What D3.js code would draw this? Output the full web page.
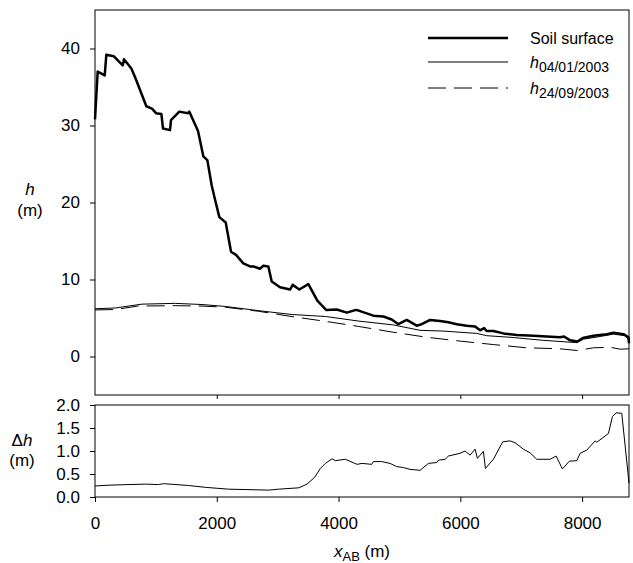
<!DOCTYPE html>
<meta charset="utf-8">
<script src="https://d3js.org/d3.v7.min.js"></script>
<style>
  body { margin: 0; background: #fff; }
  text { font-family: "Liberation Sans", Arial, sans-serif; fill: #000; }
</style>
<div id="chart"></div>
<script>
    // [x_AB (m), value]
    var soilSurface = [
        [0, 30.8], [44, 37.0], [160, 36.5], [186, 39.2], [307, 39.0], [455, 37.8], [476, 38.6],
        [597, 37.4], [662, 36.2], [843, 32.5], [936, 32.2], [1002, 31.6], [1090, 31.5], [1117, 29.6],
        [1232, 29.4], [1248, 30.7], [1385, 31.8], [1527, 31.6], [1550, 31.8], [1692, 29.3],
        [1779, 26.0], [1845, 25.5], [1917, 22.2], [1971, 20.4], [2042, 18.1], [2147, 17.4],
        [2234, 13.6], [2316, 13.2], [2436, 12.1], [2546, 11.7], [2601, 11.7], [2710, 11.4],
        [2765, 11.8], [2847, 11.7], [2902, 9.75], [3039, 9.0], [3203, 8.7], [3247, 9.3],
        [3356, 8.7], [3504, 9.4], [3652, 7.25], [3795, 6.05], [3970, 6.1], [4135, 5.7],
        [4287, 6.05], [4353, 5.9], [4572, 5.3], [4736, 5.2], [4873, 4.8], [4982, 4.2],
        [5120, 4.75], [5284, 4.0], [5366, 4.2], [5503, 4.75], [5667, 4.6], [5804, 4.45],
        [5942, 4.2], [6106, 4.0], [6242, 3.9], [6325, 3.4], [6390, 3.7], [6434, 3.3],
        [6543, 3.3], [6707, 3.0], [6926, 2.8], [7200, 2.7], [7419, 2.6], [7638, 2.5],
        [7704, 2.6], [7803, 2.1], [7923, 1.95], [8010, 2.4], [8185, 2.7], [8405, 2.9],
        [8515, 3.1], [8679, 2.9], [8761, 2.5], [8770, 1.7]
    ];

    var h04012003 = [
        [0, 6.2], [334, 6.3], [772, 6.8], [1319, 6.9], [1758, 6.75], [2141, 6.5], [2689, 5.95],
        [3236, 5.45], [3783, 5.2], [4331, 4.6], [4900, 4.1], [5339, 3.4], [5722, 3.3],
        [6270, 3.0], [6434, 2.7], [6817, 2.5], [7365, 2.1], [7913, 1.8], [8022, 2.25],
        [8296, 2.6], [8515, 2.9], [8707, 2.7], [8770, 2.1]
    ];

    var h24092003 = [
        [0, 6.05], [334, 6.1], [700, 6.55], [1319, 6.6], [1758, 6.55], [2141, 6.4], [2689, 5.87],
        [3236, 5.18], [3783, 4.57], [4331, 3.9], [4900, 3.15], [5448, 2.5], [5996, 2.0],
        [6543, 1.55], [7091, 1.13], [7638, 1.0], [7913, 0.78], [8185, 1.13], [8460, 1.2],
        [8625, 0.95], [8770, 1.0]
    ];

    var deltaH = [
        [0, 0.24], [280, 0.26], [826, 0.28], [1045, 0.27], [1127, 0.29], [1538, 0.25], [1812, 0.21],
        [2196, 0.17], [2853, 0.15], [3017, 0.17], [3346, 0.20], [3482, 0.28], [3608, 0.43],
        [3701, 0.62], [3783, 0.73], [3893, 0.83], [3947, 0.79], [4112, 0.82], [4304, 0.71],
        [4386, 0.73], [4545, 0.71], [4572, 0.77], [4709, 0.77], [4846, 0.73], [4956, 0.66],
        [5065, 0.64], [5175, 0.60], [5339, 0.58], [5476, 0.73], [5613, 0.75], [5640, 0.80],
        [5750, 0.82], [5804, 0.89], [5996, 0.95], [6078, 1.0], [6160, 0.91], [6242, 1.04],
        [6280, 0.84], [6379, 0.99], [6412, 0.62], [6543, 0.82], [6696, 1.20], [6817, 1.22],
        [6899, 1.18], [7036, 1.04], [7146, 0.96], [7255, 0.82], [7474, 0.82], [7573, 0.89],
        [7677, 0.61], [7792, 0.78], [7912, 0.79], [7967, 0.95], [8077, 1.02], [8214, 1.22],
        [8241, 1.19], [8432, 1.38], [8498, 1.75], [8558, 1.83], [8651, 1.82], [8770, 0.3]
    ];

    var xTicks = [0, 2000, 4000, 6000, 8000];
    var hTicks = [0, 10, 20, 30, 40];
    var dTicks = [0, 0.5, 1.0, 1.5, 2.0];

    var width = 633, height = 563;
    var left = 95, right = 629;
    var top1 = 10, bottom1 = 395;   // upper panel
    var top2 = 405, bottom2 = 497;  // lower panel

    var svg = d3.select("#chart").append("svg")
        .attr("width", width)
        .attr("height", height);

    var x = d3.scaleLinear().domain([0, 8770]).range([left, right]);
    var y1 = d3.scaleLinear().domain([-5, 45]).range([bottom1, top1]);
    var y2 = d3.scaleLinear().domain([0, 2]).range([bottom2, top2]);

    // ---- upper panel ----
    svg.append("rect")
        .attr("x", left).attr("y", top1)
        .attr("width", right - left).attr("height", bottom1 - top1)
        .attr("fill", "none").attr("stroke", "#000").attr("stroke-width", 1);

    var yAxis1 = svg.append("g")
        .attr("transform", "translate(" + left + ",0)")
        .call(d3.axisLeft(y1).tickValues(hTicks).tickSize(5).tickPadding(10));
    yAxis1.select(".domain").remove();

    var xAxis1 = svg.append("g")
        .attr("transform", "translate(0," + bottom1 + ")")
        .call(d3.axisBottom(x).tickValues(xTicks.slice(1)).tickSize(4).tickFormat(""));
    xAxis1.select(".domain").remove();

    var line1 = d3.line()
        .x(function(d) { return x(d[0]); })
        .y(function(d) { return y1(d[1]); });

    svg.append("path").datum(h24092003)
        .attr("d", line1).attr("fill", "none")
        .attr("stroke", "#000").attr("stroke-width", 1)
        .attr("stroke-dasharray", "18,8");

    svg.append("path").datum(h04012003)
        .attr("d", line1).attr("fill", "none")
        .attr("stroke", "#000").attr("stroke-width", 1);

    svg.append("path").datum(soilSurface)
        .attr("d", line1).attr("fill", "none")
        .attr("stroke", "#000").attr("stroke-width", 2.5)
        .attr("stroke-linejoin", "round");

    // ---- lower panel ----
    svg.append("rect")
        .attr("x", left).attr("y", top2)
        .attr("width", right - left).attr("height", bottom2 - top2)
        .attr("fill", "none").attr("stroke", "#000").attr("stroke-width", 1);

    var yAxis2 = svg.append("g")
        .attr("transform", "translate(" + left + ",0)")
        .call(d3.axisLeft(y2).tickValues(dTicks).tickSize(5).tickPadding(10).tickFormat(d3.format(".1f")));
    yAxis2.select(".domain").remove();

    var xAxis2 = svg.append("g")
        .attr("transform", "translate(0," + bottom2 + ")")
        .call(d3.axisBottom(x).tickValues(xTicks).tickSize(5).tickPadding(15).tickFormat(d3.format("d")));
    xAxis2.select(".domain").remove();

    var line2 = d3.line()
        .x(function(d) { return x(d[0]); })
        .y(function(d) { return y2(d[1]); });

    svg.append("path").datum(deltaH)
        .attr("d", line2).attr("fill", "none")
        .attr("stroke", "#000").attr("stroke-width", 1);

    svg.selectAll(".tick text")
        .attr("font-size", "17px")
        .attr("font-family", "'Liberation Sans', Arial, sans-serif")
        .attr("fill", "#000");
    svg.selectAll(".tick line").attr("stroke", "#000");

    // ---- axis titles ----
    var hLab = svg.append("text").attr("x", 30).attr("y", 195)
        .attr("text-anchor", "middle").attr("font-size", "17px");
    hLab.append("tspan").attr("font-style", "italic").text("h");
    svg.append("text").attr("x", 30).attr("y", 216)
        .attr("text-anchor", "middle").attr("font-size", "17px").text("(m)");

    var dLab = svg.append("text").attr("x", 22).attr("y", 446)
        .attr("text-anchor", "middle").attr("font-size", "17px");
    dLab.append("tspan").text("\u0394");
    dLab.append("tspan").attr("font-style", "italic").text("h");
    svg.append("text").attr("x", 22).attr("y", 466)
        .attr("text-anchor", "middle").attr("font-size", "17px").text("(m)");

    var xLab = svg.append("text").attr("x", (left + right) / 2).attr("y", 557)
        .attr("text-anchor", "middle").attr("font-size", "17px");
    xLab.append("tspan").attr("font-style", "italic").text("x");
    xLab.append("tspan").attr("font-size", "13px").attr("dy", 4).text("AB");
    xLab.append("tspan").attr("dy", -4).text(" (m)");

    // ---- legend ----
    var legend = [
        { name: "Soil surface", width: 2.5, dash: null, sub: null },
        { name: "h", width: 1, dash: null, sub: "04/01/2003" },
        { name: "h", width: 1, dash: "18,8", sub: "24/09/2003" }
    ];
    var legendY = [38, 62, 88];

    legend.forEach(function(d, i) {
        svg.append("line")
            .attr("x1", 428).attr("x2", 508)
            .attr("y1", legendY[i]).attr("y2", legendY[i])
            .attr("stroke", "#000").attr("stroke-width", d.width)
            .attr("stroke-dasharray", d.dash);
        var t = svg.append("text").attr("x", 530).attr("y", legendY[i] + 6)
            .attr("font-size", "16px");
        if (d.sub) {
            t.append("tspan").attr("font-style", "italic").text(d.name);
            t.append("tspan").attr("font-size", "14px").attr("dy", 4).text(d.sub);
        } else {
            t.text(d.name);
        }
    });
</script>
